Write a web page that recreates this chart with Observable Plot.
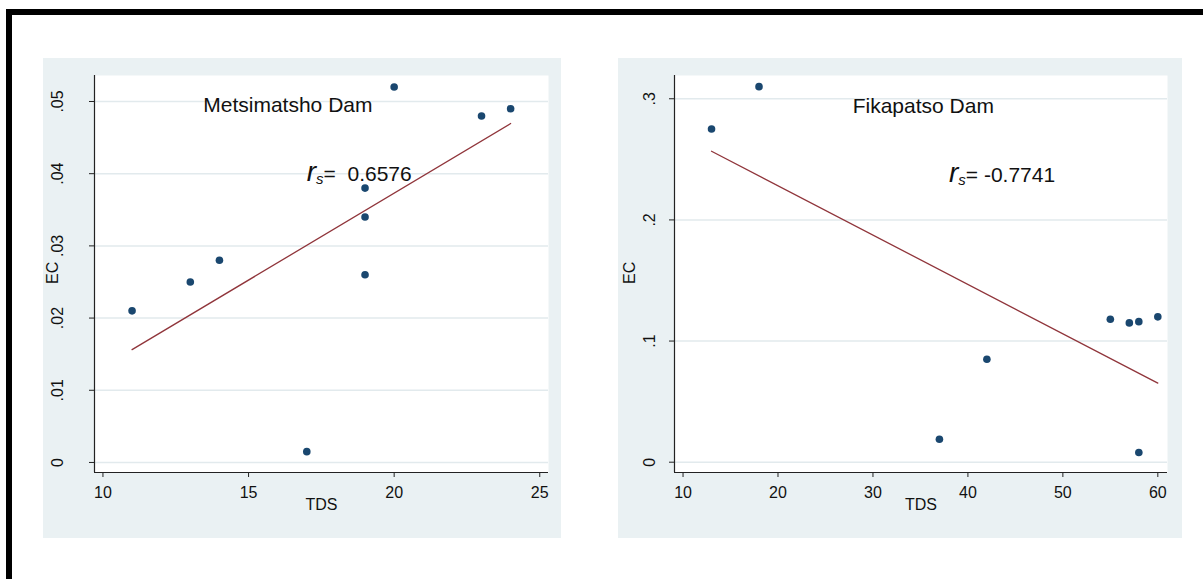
<!DOCTYPE html>
<html><head><meta charset="utf-8">
<script src="https://cdn.jsdelivr.net/npm/d3@7"></script>
<script src="https://cdn.jsdelivr.net/npm/@observablehq/plot@0.6"></script>
<style>
body{margin:0;background:#fff;width:1203px;height:579px;overflow:hidden;position:relative;font-family:"Liberation Sans",Arial,sans-serif;}
#frame{position:absolute;left:6px;top:9px;right:-10px;bottom:-20px;border-top:6px solid #000;border-left:6px solid #000;}
.panel{position:absolute;top:58px;}
#left{left:43px} #right{left:618px}
</style></head><body><div id="frame"></div><div id="left" class="panel"></div><div id="right" class="panel"></div>
<script>
// Data
const metsTDS = [11, 13, 14, 17, 19, 19, 19, 20, 23, 24];
const metsEC  = [0.021, 0.025, 0.028, 0.0015, 0.038, 0.034, 0.026, 0.052, 0.048, 0.049];
const fikaTDS = [13, 18, 37, 42, 55, 57, 58, 58, 60];
const fikaEC  = [0.275, 0.31, 0.019, 0.085, 0.118, 0.115, 0.116, 0.008, 0.12];
const metsXTicks = [10, 15, 20, 25];
const metsYTicks = [0, 0.01, 0.02, 0.03, 0.04, 0.05];
const fikaXTicks = [10, 20, 30, 40, 50, 60];
const fikaYTicks = [0, 0.1, 0.2, 0.3];
const metsTitle = [{x: 16.35, y: 0.0495, text: "Metsimatsho Dam"}];
const fikaTitle = [{x: 35.3, y: 0.294, text: "Fikapatso Dam"}];
const metsRs = [{x: 18.8, y: 0.0399, sym: "r", sub: "s", value: "=  0.6576"}];
const fikaRs = [{x: 43.6, y: 0.2367, sym: "r", sub: "s", value: "= -0.7741"}];
const xLabel = "TDS", yLabel = "EC";

const navy = "#1a476f", maroon = "#90353b", bg = "#eaf1f3", grid = "#e2eaed", axisCol = "#222";
const tickFont = "'Liberation Sans Narrow','Arial Narrow','Liberation Sans',Arial,sans-serif";
const fmtY = d => d === 0 ? "0" : String(d).replace(/^0/, "");

function panel({tds, ec, xTicks, yTicks, xDomain, yDomain, title, rs, width, marginLeft, marginRight, yPad, ecDx}) {
  const data = tds.map((t, i) => ({tds: t, ec: ec[i]}));
  const svg = Plot.plot({
    width, height: 480,
    marginLeft, marginRight, marginTop: 17, marginBottom: 66,
    style: {background: bg, fontFamily: "'Liberation Sans',Arial,sans-serif", overflow: "visible"},
    x: {domain: xDomain},
    y: {domain: yDomain},
    marks: [
      Plot.frame({fill: "white", stroke: null}),
      Plot.gridY(yTicks, {stroke: grid, strokeOpacity: 1, strokeWidth: 1.5}),
      Plot.ruleX([xDomain[0]], {stroke: axisCol, strokeWidth: 1.2}),
      Plot.ruleY([yDomain[0]], {stroke: axisCol, strokeWidth: 1.2}),
      Plot.axisX({ticks: xTicks, tickSize: 5, tickPadding: 9, label: null, fontSize: 16, fontFamily: tickFont, stroke: axisCol, fill: "#111"}),
      Plot.axisY({ticks: yTicks, tickFormat: fmtY, tickSize: 5, tickRotate: -90, tickPadding: yPad, label: null, fontSize: 16, fontFamily: tickFont, stroke: axisCol, fill: "#111"}),
      Plot.text([xLabel], {frameAnchor: "bottom", dy: 37, text: d => d, fontSize: 16, fontFamily: tickFont, fill: "#111"}),
      Plot.text([yLabel], {frameAnchor: "left", dx: ecDx, dy: 10, rotate: -90, text: d => d, fontSize: 16, fontFamily: tickFont, fill: "#111"}),
      Plot.linearRegressionY(data, {x: "tds", y: "ec", stroke: maroon, strokeWidth: 1.3, ci: 0}),
      Plot.dot(data, {x: "tds", y: "ec", r: 3.8, fill: navy, stroke: null}),
      Plot.text(title, {x: "x", y: "y", text: "text", fontSize: 21, fill: "#111"}),
      Plot.text(rs, {x: "x", y: "y", text: "value", fontSize: 21, fill: "#111", className: "rs"})
    ]
  });
  // rich text for r_s
  d3.select(svg).selectAll(".rs text").each(function(_, i) {
    const a = rs[i] || rs[0];
    const t = d3.select(this).style("white-space", "pre");
    const rest = a.value;
    t.text(null);
    t.append("tspan").attr("font-style", "italic").attr("font-size", 28).text(a.sym);
    t.append("tspan").attr("font-style", "italic").attr("font-size", 15).attr("dy", 3).text(a.sub);
    t.append("tspan").attr("dy", -3).text(rest);
  });
  return svg;
}

document.getElementById("left").appendChild(panel({
  tds: metsTDS, ec: metsEC, xTicks: metsXTicks, yTicks: metsYTicks,
  xDomain: [9.71, 25.3], yDomain: [-0.00139, 0.0536], title: metsTitle, rs: metsRs,
  width: 518, marginLeft: 51, marginRight: 13, yPad: 27, ecDx: -42
}));
document.getElementById("right").appendChild(panel({
  tds: fikaTDS, ec: fikaEC, xTicks: fikaXTicks, yTicks: fikaYTicks,
  xDomain: [9.10, 61.02], yDomain: [-0.0085, 0.3192], title: fikaTitle, rs: fikaRs,
  width: 564, marginLeft: 56, marginRight: 15, yPad: 15, ecDx: -45
}));
</script></body></html>
